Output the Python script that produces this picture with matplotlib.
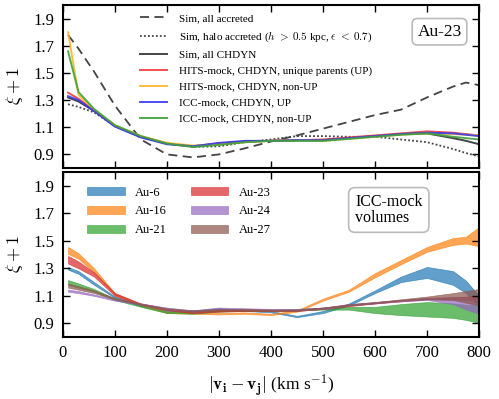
import numpy as np
import matplotlib
matplotlib.use('Agg')
import matplotlib.pyplot as plt

plt.rcParams['font.family'] = 'serif'
plt.rcParams['font.serif'] = ['Liberation Serif', 'DejaVu Serif']
plt.rcParams['mathtext.fontset'] = 'cm'

## data: top panel (Au-23) ##

x_top = [10, 30, 60, 100, 150, 200, 250, 300, 350, 400, 450, 500, 550, 600, 650, 700, 750, 775, 800]

sim_all_acc = [1.78, 1.68, 1.51, 1.26, 1.01, 0.90, 0.878, 0.90, 0.945, 0.995, 1.04, 1.09, 1.14, 1.19, 1.23, 1.32, 1.40, 1.43, 1.41]
sim_halo_acc = [1.27, 1.25, 1.21, 1.11, 1.03, 0.98, 0.955, 0.96, 0.99, 1.01, 1.035, 1.035, 1.03, 1.03, 1.01, 0.99, 0.94, 0.91, 0.885]
sim_chdyn = [1.32, 1.29, 1.22, 1.11, 1.03, 0.98, 0.96, 0.98, 0.995, 1.0, 1.005, 1.005, 1.02, 1.035, 1.05, 1.055, 1.02, 1.0, 0.975]
hits_up = [1.355, 1.31, 1.225, 1.11, 1.03, 0.98, 0.96, 0.98, 0.995, 1.0, 1.005, 1.01, 1.025, 1.04, 1.055, 1.07, 1.06, 1.05, 1.04]
hits_nonup = [1.80, 1.34, 1.23, 1.115, 1.035, 0.985, 0.965, 0.975, 0.99, 1.0, 1.005, 1.0, 1.015, 1.03, 1.045, 1.055, 1.05, 1.045, 1.04]
icc_up = [1.33, 1.30, 1.22, 1.105, 1.025, 0.975, 0.96, 0.985, 1.0, 1.0, 1.005, 1.005, 1.02, 1.035, 1.05, 1.06, 1.055, 1.045, 1.035]
icc_nonup = [1.66, 1.36, 1.235, 1.115, 1.035, 0.98, 0.955, 0.97, 0.99, 1.0, 1.0, 1.0, 1.015, 1.03, 1.045, 1.055, 1.03, 1.02, 1.01]

top_labels = ['Sim, all accreted',
              r'Sim, halo accreted ($h\;>\;0.5$ kpc, $\epsilon\;<\;0.7$)',
              'Sim, all CHDYN',
              'HITS-mock, CHDYN, unique parents (UP)',
              'HITS-mock, CHDYN, non-UP',
              'ICC-mock, CHDYN, UP',
              'ICC-mock, CHDYN, non-UP']

## data: bottom panel (ICC-mock volumes), lower / upper edge of each band ##

x_bot = [10, 30, 60, 100, 150, 200, 250, 300, 350, 400, 450, 500, 550, 600, 650, 700, 750, 775, 800]

au6_lo = [1.29, 1.26, 1.18, 1.085, 1.025, 0.985, 0.985, 0.995, 0.99, 0.98, 0.945, 0.975, 1.03, 1.12, 1.20, 1.23, 1.18, 1.12, 1.02]
au6_hi = [1.31, 1.28, 1.20, 1.095, 1.035, 0.995, 0.995, 1.01, 1.0, 0.99, 0.955, 0.99, 1.045, 1.14, 1.24, 1.31, 1.28, 1.21, 1.10]
au16_lo = [1.405, 1.37, 1.27, 1.11, 1.03, 0.975, 0.97, 0.965, 0.97, 0.96, 0.985, 1.065, 1.13, 1.235, 1.33, 1.42, 1.47, 1.48, 1.46]
au16_hi = [1.455, 1.41, 1.30, 1.12, 1.04, 0.985, 0.98, 0.975, 0.98, 0.97, 0.995, 1.08, 1.145, 1.265, 1.36, 1.455, 1.52, 1.53, 1.60]
au21_lo = [1.18, 1.16, 1.13, 1.07, 1.02, 0.975, 0.97, 0.985, 0.99, 0.99, 0.995, 1.0, 1.0, 0.975, 0.96, 0.95, 0.94, 0.925, 0.905]
au21_hi = [1.215, 1.19, 1.15, 1.08, 1.03, 0.985, 0.98, 0.995, 1.0, 1.0, 1.005, 1.015, 1.02, 1.02, 1.04, 1.055, 1.045, 1.035, 1.03]
au23_lo = [1.335, 1.30, 1.24, 1.10, 1.035, 0.995, 0.975, 0.985, 0.99, 0.99, 0.99, 1.005, 1.025, 1.045, 1.06, 1.075, 1.075, 1.07, 1.06]
au23_hi = [1.39, 1.35, 1.27, 1.12, 1.045, 1.005, 0.985, 0.995, 1.0, 1.0, 1.0, 1.015, 1.035, 1.055, 1.07, 1.085, 1.09, 1.095, 1.10]
au24_lo = [1.13, 1.12, 1.10, 1.065, 1.035, 1.005, 0.985, 1.005, 1.0, 0.995, 0.995, 1.005, 1.03, 1.045, 1.06, 1.07, 1.04, 1.0, 0.97]
au24_hi = [1.145, 1.135, 1.11, 1.075, 1.045, 1.015, 0.995, 1.015, 1.01, 1.005, 1.005, 1.015, 1.04, 1.055, 1.07, 1.085, 1.09, 1.09, 1.08]
au27_lo = [1.16, 1.145, 1.12, 1.075, 1.035, 1.0, 0.985, 0.995, 0.995, 0.99, 0.99, 1.005, 1.03, 1.045, 1.065, 1.075, 1.07, 1.05, 1.03]
au27_hi = [1.19, 1.17, 1.14, 1.085, 1.045, 1.01, 0.995, 1.005, 1.005, 1.0, 1.0, 1.015, 1.04, 1.055, 1.075, 1.095, 1.12, 1.135, 1.15]

halo_names = ['Au-6', 'Au-16', 'Au-21', 'Au-23', 'Au-24', 'Au-27']

## figure ##

fig = plt.figure(figsize=(4.99, 3.99), dpi=100)
ax1 = fig.add_axes([0.126, 0.579, 0.834, 0.408])
ax2 = fig.add_axes([0.126, 0.155, 0.834, 0.414])

ax1.plot(x_top, sim_all_acc, c='#444444', ls=(0, (5, 3)), lw=1.3, label=top_labels[0])
ax1.plot(x_top, sim_halo_acc, c='#444444', ls=(0, (1, 1.2)), lw=1.3, label=top_labels[1])
ax1.plot(x_top, sim_chdyn, c='#444444', lw=1.4, label=top_labels[2])
ax1.plot(x_top, hits_up, c='#f03c3c', lw=1.4, alpha=0.9, label=top_labels[3])
ax1.plot(x_top, hits_nonup, c='#fdb52c', lw=1.4, alpha=0.9, label=top_labels[4])
ax1.plot(x_top, icc_up, c='#3a3aef', lw=1.4, alpha=0.9, label=top_labels[5])
ax1.plot(x_top, icc_nonup, c='#3da33a', lw=1.4, alpha=0.9, label=top_labels[6])

ax1.legend(loc='upper left', bbox_to_anchor=(0.185, 0.95), frameon=False, fontsize=8,
           handlelength=2.4, handletextpad=1.1, labelspacing=0.55, borderaxespad=0,
           borderpad=0)
ax1.text(0.905, 0.837, 'Au-23', transform=ax1.transAxes, fontsize=12.5, ha='center', va='center',
         bbox=dict(boxstyle='round,pad=0.3', fc='white', ec='#bbbbbb', lw=1.2))

bands = [(au6_lo, au6_hi, 'tab:blue'), (au16_lo, au16_hi, 'tab:orange'),
         (au21_lo, au21_hi, 'tab:green'), (au23_lo, au23_hi, 'tab:red'),
         (au24_lo, au24_hi, 'tab:purple'), (au27_lo, au27_hi, 'tab:brown')]
for i in range(6):
    lo, hi, col = bands[i]
    ax2.fill_between(x_bot, lo, hi, color=col, alpha=0.7, lw=0.5, label=halo_names[i])

ax2.legend(loc='upper left', bbox_to_anchor=(0.058, 0.912), ncol=2, frameon=False, fontsize=9,
           handlelength=3.0, handleheight=0.6, handletextpad=0.85, columnspacing=1.9,
           labelspacing=0.55, borderaxespad=0, borderpad=0)
ax2.text(0.702, 0.77, 'ICC-mock\nvolumes', transform=ax2.transAxes, fontsize=11.5,
         ha='left', va='center', linespacing=1.0,
         bbox=dict(boxstyle='round,pad=0.4', fc='white', ec='#bbbbbb', lw=1.2))

for ax in [ax1, ax2]:
    ax.set_xlim(0, 800)
    ax.set_ylim(0.8, 2.0)
    ax.set_xticks(range(0, 801, 100))
    ax.set_yticks([0.9, 1.1, 1.3, 1.5, 1.7, 1.9])
    ax.tick_params(direction='in', top=True, right=True, length=5, width=1, labelsize=12, pad=6)
    for s in ax.spines.values():
        s.set_linewidth(1.5)
    ax.set_ylabel(r'$\xi + 1$', fontsize=13)
    ax.yaxis.set_label_coords(-0.09, 0.5)

ax1.tick_params(labelbottom=False)
ax2.set_xlabel(r'$|\mathbf{v_i} - \mathbf{v_j}|$ (km s$^{-1}$)', fontsize=12.5, labelpad=8)

plt.savefig('out.png', dpi=100)
